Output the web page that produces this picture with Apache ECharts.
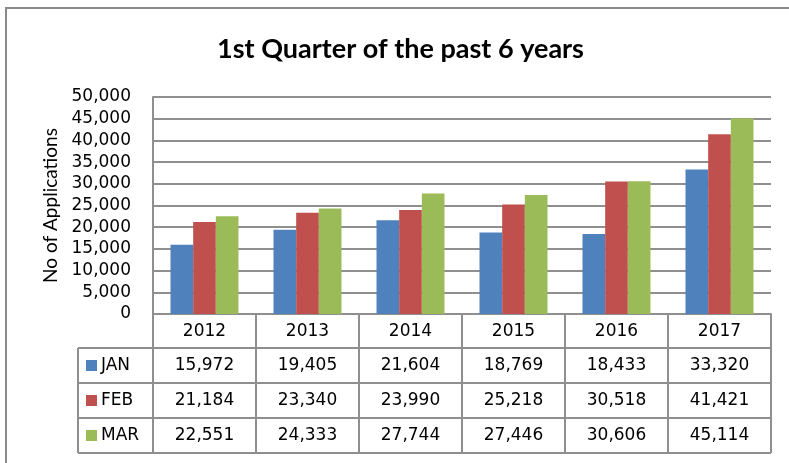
<!DOCTYPE html>
<html>
<head>
<meta charset="utf-8">
<script src="https://cdn.jsdelivr.net/npm/echarts@6/dist/echarts.min.js"></script>
<style>
  html, body { margin: 0; padding: 0; background: #fff; }
  #main { width: 789px; height: 463px; }
</style>
</head>
<body>
<div id="main"></div>
<script>
// 数据
var years = ['2012', '2013', '2014', '2015', '2016', '2017'];
var janData = [15972, 19405, 21604, 18769, 18433, 33320];
var febData = [21184, 23340, 23990, 25218, 30518, 41421];
var marData = [22551, 24333, 27744, 27446, 30606, 45114];
var seriesNames = ['JAN', 'FEB', 'MAR'];
var seriesColors = ['#4f81bd', '#c0504d', '#9bbb59'];

var FONT = '"DejaVu Sans"';
var TITLE_FONT = 'Lato';
var LINE = '#8f8f8f';

// 绘图区
var gridLeft = 153, gridTop = 97, gridRight = 771, gridBottom = 314;
var colW = (gridRight - gridLeft) / years.length;
var rowTops = [348, 383, 418];
var rowH = 35;
var tableLeft = 78;
var tableBottom = rowTops[2] + rowH;

function fmt(v) {
  return v.toLocaleString('en-US');
}

// 数据表的线和文字
function buildTable() {
  var els = [];
  var allData = [janData, febData, marData];

  // 横线
  rowTops.concat([tableBottom]).forEach(function (y) {
    els.push({
      type: 'line', silent: true,
      shape: { x1: tableLeft, y1: y, x2: gridRight, y2: y },
      style: { stroke: LINE, lineWidth: 2 }
    });
  });
  // 竖线
  els.push({
    type: 'line', silent: true,
    shape: { x1: tableLeft, y1: rowTops[0], x2: tableLeft, y2: tableBottom },
    style: { stroke: LINE, lineWidth: 2 }
  });
  for (var c = 0; c <= years.length; c++) {
    var x = gridLeft + c * colW;
    els.push({
      type: 'line', silent: true,
      shape: { x1: x, y1: gridBottom, x2: x, y2: tableBottom },
      style: { stroke: LINE, lineWidth: 2 }
    });
  }

  // 图例和数值
  allData.forEach(function (arr, i) {
    var cy = rowTops[i] + rowH / 2;
    els.push({
      type: 'rect', silent: true,
      shape: { x: 86, y: cy - 5.5, width: 11, height: 11 },
      style: { fill: seriesColors[i] }
    });
    els.push({
      type: 'text', silent: true, x: 101, y: cy,
      style: { text: seriesNames[i], font: '17px ' + FONT, fill: '#000', verticalAlign: 'middle', align: 'left' }
    });
    arr.forEach(function (v, j) {
      els.push({
        type: 'text', silent: true,
        x: gridLeft + colW * (j + 0.5), y: cy,
        style: { text: fmt(v), font: '17px ' + FONT, fill: '#000', align: 'center', verticalAlign: 'middle' }
      });
    });
  });

  // 外框
  els.push({
    type: 'polyline', silent: true,
    shape: { points: [[6, 463], [6, 8], [789, 8]] },
    style: { stroke: '#8a8a8a', lineWidth: 2, fill: null }
  });
  return els;
}

var chart = echarts.init(document.getElementById('main'));

var option = {
  backgroundColor: '#fff',
  animation: false,
  title: {
    text: '1st Quarter of the past 6 years',
    left: 212,
    top: 31,
    textStyle: { fontFamily: TITLE_FONT, fontWeight: 'bold', fontSize: 27, color: '#000' }
  },
  grid: {
    left: gridLeft,
    top: gridTop,
    width: gridRight - gridLeft,
    height: gridBottom - gridTop,
    containLabel: false
  },
  xAxis: {
    type: 'category',
    data: years,
    axisLine: { show: true, lineStyle: { color: LINE, width: 2 } },
    axisTick: { show: false },
    axisLabel: { fontFamily: FONT, fontSize: 17, color: '#000', margin: 9 }
  },
  yAxis: {
    type: 'value',
    min: 0,
    max: 50000,
    interval: 5000,
    name: 'No of Applications',
    nameLocation: 'middle',
    nameGap: 88,
    nameTextStyle: { fontFamily: TITLE_FONT, fontSize: 19, color: '#000' },
    axisLine: { show: true, lineStyle: { color: LINE, width: 2 } },
    axisTick: { show: false },
    axisLabel: {
      fontFamily: FONT, fontSize: 17, color: '#000', margin: 22,
      formatter: function (v) { return fmt(v); }
    },
    splitLine: { show: true, lineStyle: { color: LINE, width: 2 } }
  },
  series: [
    { name: seriesNames[0], type: 'bar', data: janData, itemStyle: { color: seriesColors[0] }, barGap: '0%', barCategoryGap: '34%' },
    { name: seriesNames[1], type: 'bar', data: febData, itemStyle: { color: seriesColors[1] } },
    { name: seriesNames[2], type: 'bar', data: marData, itemStyle: { color: seriesColors[2] } }
  ],
  graphic: buildTable()
};

chart.setOption(option);
</script>
</body>
</html>
